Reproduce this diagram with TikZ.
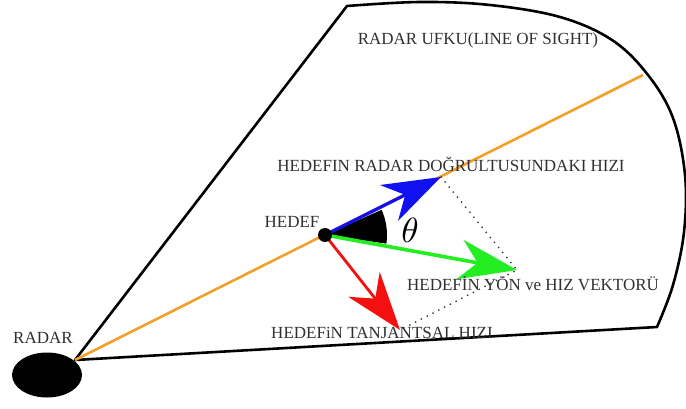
\documentclass[tikz,border=0pt]{standalone}
\usepackage{fontspec}
\setmainfont{Liberation Serif}
\usetikzlibrary{arrows.meta,shapes.geometric}
\definecolor{lblc}{HTML}{303030}
\definecolor{losc}{HTML}{F2A02A}
\definecolor{bluec}{HTML}{1010F0}
\definecolor{greenc}{HTML}{22EE22}
\definecolor{redc}{HTML}{F51010}
\begin{document}
\begin{tikzpicture}[x=1pt,y=-1pt,
  lbl/.style={font=\fontsize{17}{18}\selectfont, text=lblc, inner sep=0pt, anchor=base},
  vec/.style={line width=3.2pt, -{Stealth[length=58pt,width=40pt,inset=18pt]}},
  outline/.style={line width=2.6pt, line join=round, draw=black},
  guide/.style={draw=gray!50!black, line width=2pt, line cap=round, dash pattern=on 0pt off 6.5pt}]
\useasboundingbox (0,0) rectangle (686,409);
\coordinate (apex) at (75,360);
\coordinate (losEnd) at (643,75);
\coordinate (blueTip) at (441,177);
\coordinate (greenTip) at (517,270);
\coordinate (redTip) at (400,330);
% sector outline
\draw[outline] (apex) -- (347,6) -- plot[smooth, tension=0.6] coordinates {(347,6) (420,2) (490,5) (560,17) (612,40) (648,75) (673,118) (685,175) (684,232) (673,285) (657,327)} -- cycle;
% line of sight
\draw[losc, line width=2.6pt] (apex) -- (losEnd);
% radar
\node[ellipse, fill=black, minimum width=70pt, minimum height=45pt, inner sep=0pt] (radar) at (47,375) {};
% angle wedge
\coordinate (tc) at (325,235);
\fill[black] (tc) -- ++(-8:62pt) arc[start angle=-8, end angle=24, radius=62pt] -- cycle;
% guides
\draw[guide] (blueTip) -- (greenTip) -- (redTip);
% vectors
\draw[vec, bluec] (tc) -- (blueTip);
\draw[vec, greenc, line width=3.6pt] (tc) -- (greenTip);
\draw[vec, redc, line width=2.8pt] (tc) -- (redTip);
\node[circle, fill=black, minimum size=14pt, inner sep=0pt] (hedef) at (tc) {};
% labels
\node[lbl] (los) at (478,45) {RADAR UFKU(LINE OF SIGHT)};
\node[lbl] (radial) at (451,172) {HEDEFIN RADAR DOĞRULTUSUNDAKI HIZI};
\node[lbl] (hlabel) at (292,227) {HEDEF};
\node[lbl] (velocity) at (533,290) {HEDEFİN YÖN ve HIZ VEKTORÜ};
\node[lbl] (tangential) at (382,338) {HEDEFiN TANJANTSAL HIZI};
\node[lbl] (rlabel) at (43,343) {RADAR};
\node[inner sep=0pt] (theta) at (410,230) {\scalebox{3.5}{$\theta$}};
\end{tikzpicture}
\end{document}
